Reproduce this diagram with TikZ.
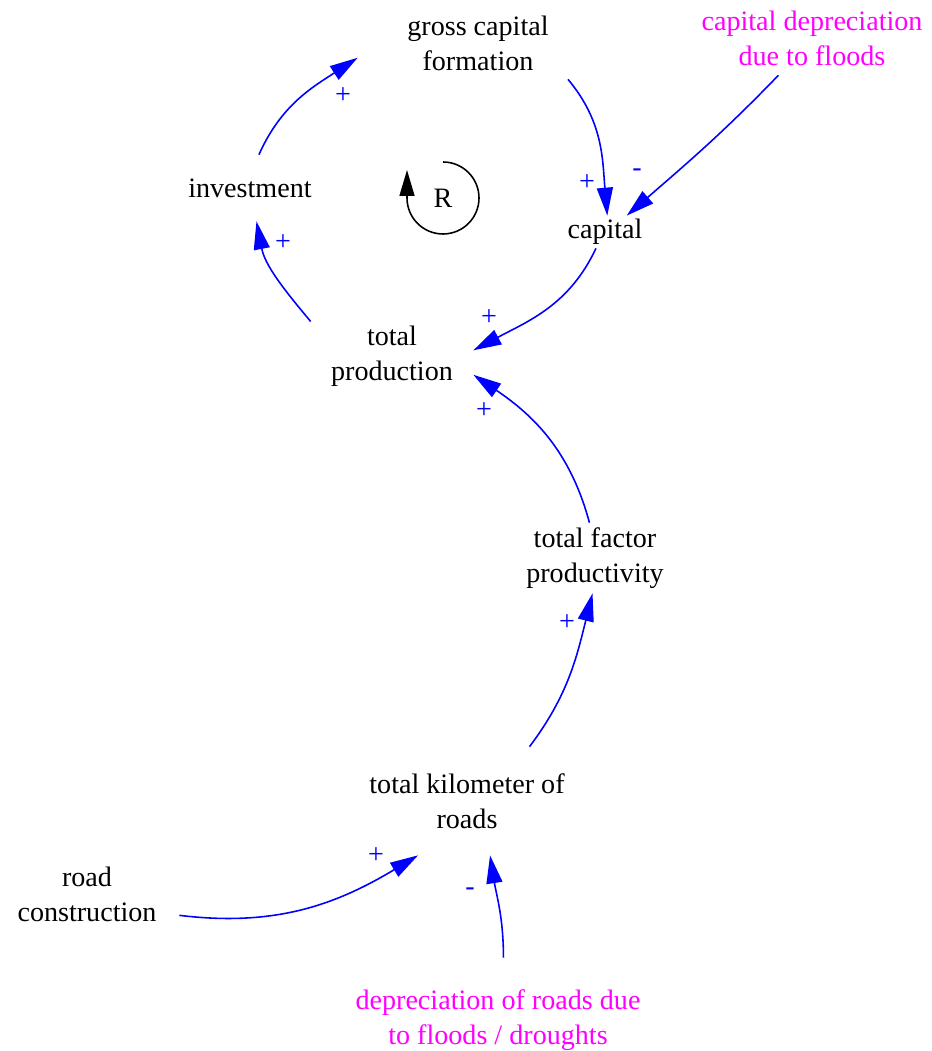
\documentclass[tikz,border=0pt]{standalone}
\usepackage{fontspec}
\setmainfont{Liberation Serif}
\usetikzlibrary{arrows.meta}
\definecolor{linkblue}{HTML}{0000FF}
\definecolor{floodpink}{HTML}{FF00FF}
\tikzset{
    every node/.style={font=\fontsize{16}{20}\selectfont},
    var/.style={align=center,inner sep=0pt},
    exo/.style={var,text=floodpink},
    pol/.style={text=linkblue,inner sep=0pt},
    link/.style={draw=linkblue,line width=0.9pt,-{Triangle[length=0.56cm,width=0.32cm]}},
    loopmark/.style={draw=black,line width=0.9pt,-{Triangle[length=0.52cm,width=0.3cm]}}
}
\begin{document}
\begin{tikzpicture}[x=0.02cm,y=-0.02cm]
    \useasboundingbox (0,0) rectangle (932,1051);
    % variables (sizes set so that the borders sit where the links stop)
    \node[var,minimum width=4.8cm,minimum height=1.44cm] (gcf) at (478,43) {gross capital\\formation};
    \node[exo,minimum width=4.6cm,minimum height=1.48cm] (cdf) at (812,38) {capital depreciation\\due to floods};
    \node[var,minimum width=3.2cm,minimum height=1.32cm] (inv) at (250,188) {investment};
    \node[var,minimum width=1.8cm,minimum height=0.64cm] (cap) at (605,232) {capital};
    \node[var,minimum width=3.24cm,minimum height=1.44cm] (tp) at (392,356) {total\\production};
    \node[var,minimum width=3.2cm,minimum height=1.4cm] (tfp) at (595,558) {total factor\\productivity};
    \node[var,minimum width=4.4cm,minimum height=2.16cm] (tkr) at (467,801) {total kilometer of\\roads};
    \node[var,minimum width=3.68cm,minimum height=1.6cm] (rc) at (87,894) {road\\construction};
    \node[exo,minimum width=6cm,minimum height=2.48cm] (drd) at (498,1020) {depreciation of roads due\\to floods / droughts};

    % reinforcing loop
    \node (R) at (443,198) {R};
    \draw[loopmark] (R) ++(0,-36) arc[start angle=90,end angle=-180,radius=0.72cm] -- ++(0,0.56cm);

    % causal links
    \draw[link] (inv.75) to[out=66,in=213] (gcf.187);
    \draw[link] (gcf.-22) to[out=-50,in=95] (cap.82);
    \draw[link] (cdf.228) to[out=226,in=41] (cap.37);
    \draw[link] (cap.241) to[out=245,in=28] (tp.4);
    \draw[link] (tp.157) to[out=130,in=-79] (inv.-79);
    \draw[link] (tfp.99) to[out=105,in=-34] (tp.-13);
    \draw[link] (tkr.41) to[out=53,in=256] (tfp.266);
    \draw[link] (rc.-13) to[out=-7,in=211] (tkr.228);
    \draw[link] (drd.85) to[out=90,in=279] (tkr.293);

    % polarities
    \node[pol] (p1) at (343,96) {+};
    \node[pol] (p2) at (587,183) {+};
    \node[pol] (p3) at (637,173) {-};
    \node[pol] (p4) at (489,318) {+};
    \node[pol] (p5) at (283,243) {+};
    \node[pol] (p6) at (484,411) {+};
    \node[pol] (p7) at (567,623) {+};
    \node[pol] (p8) at (376,856) {+};
    \node[pol] (p9) at (470,892) {-};
\end{tikzpicture}
\end{document}
